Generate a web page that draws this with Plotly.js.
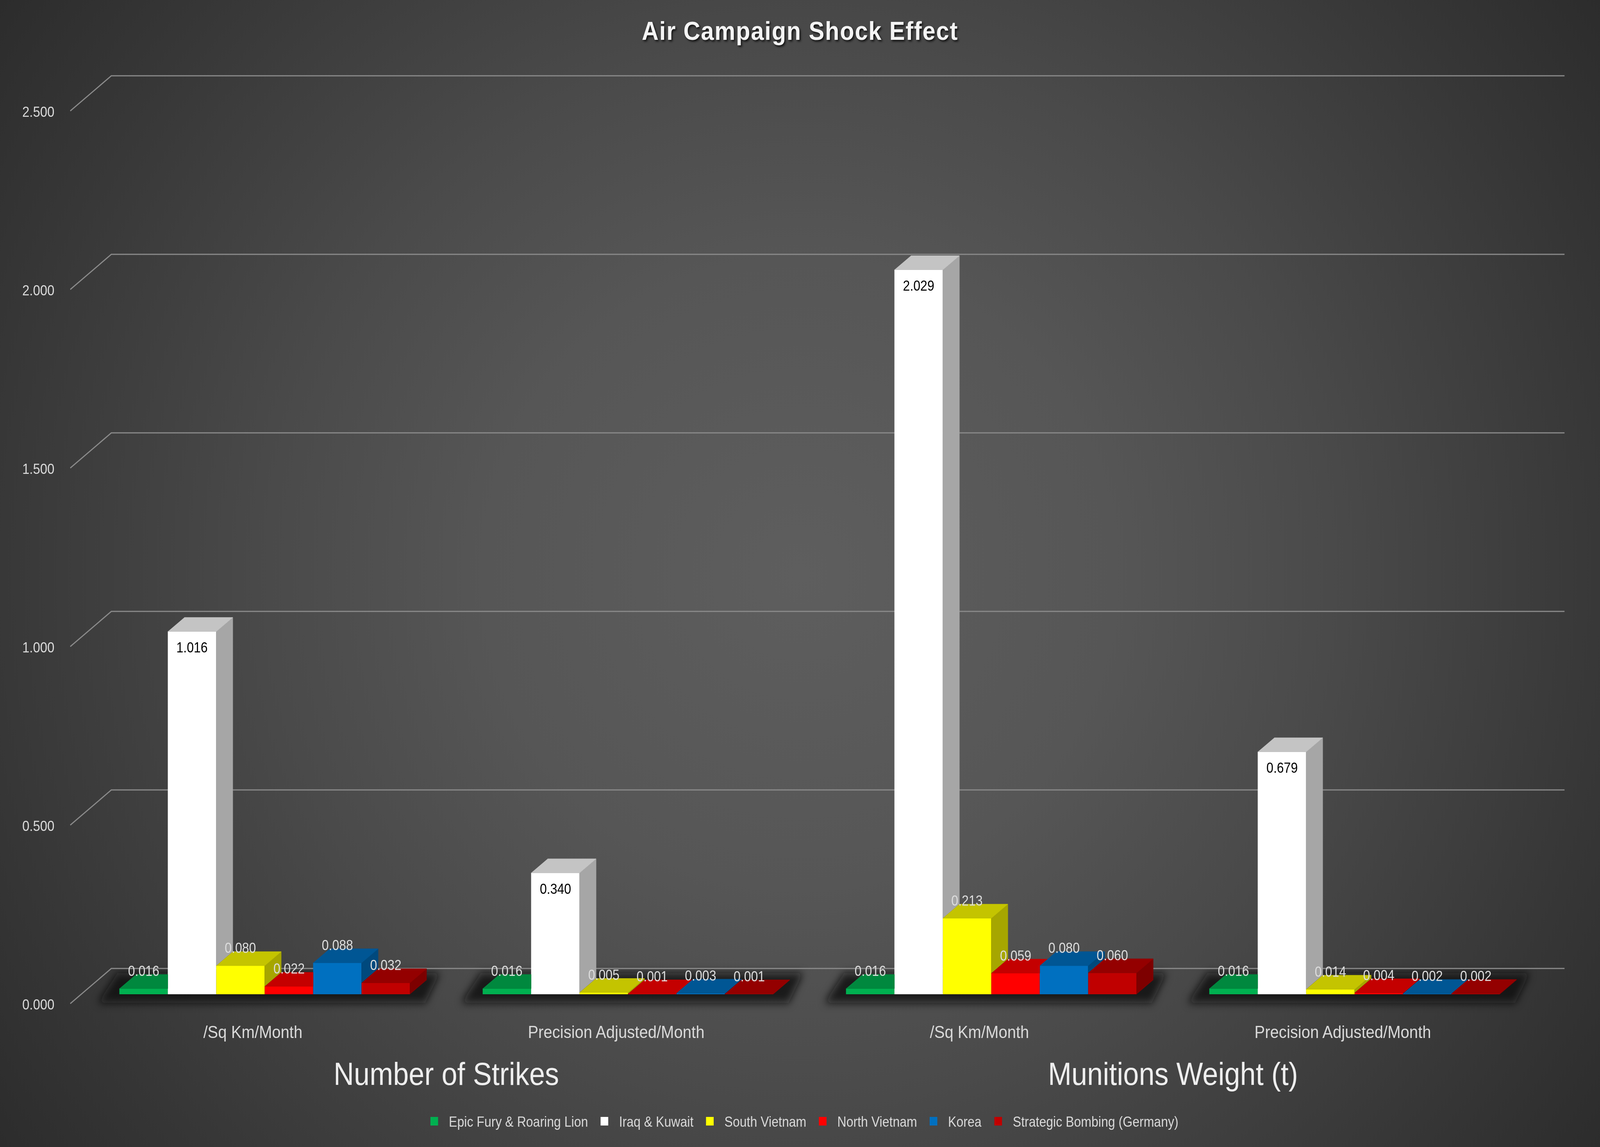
<!DOCTYPE html>
<html><head><meta charset="utf-8">
<script src="https://cdn.plot.ly/plotly-3.0.1.min.js"></script>
<style>
html,body{margin:0;padding:0;width:100%;height:100%;overflow:hidden;
background: radial-gradient(circle at 50% 50%, #5e5e5e 0%, #565656 32%, #4a4a4a 54%, #363636 84%, #2c2c2c 100%);}
#chart{width:4600px;height:2936px;transform-origin:0 0;}
.gtitle{letter-spacing:2px;}
.legend .legendpoints path{d:path("M11,11H-11V-11H11Z");}
.shapelayer path[data-index="0"], .shapelayer path[data-index="1"],
.shapelayer path[data-index="2"], .shapelayer path[data-index="3"]{filter:url(#shadowBlur);}
</style></head><body>
<svg width="0" height="0" style="position:absolute"><defs>
<filter id="shadowBlur" x="-20%" y="-60%" width="140%" height="220%"><feGaussianBlur stdDeviation="11"/></filter>
</defs></svg>
<div id="chart"></div>
<script>
// ---------- data ----------
const categories = ['/Sq Km/Month', 'Precision Adjusted/Month', '/Sq Km/Month', 'Precision Adjusted/Month'];
const groupLabels = ['Number of Strikes', 'Munitions Weight (t)'];
const seriesNames = ['Epic Fury & Roaring Lion', 'Iraq & Kuwait', 'South Vietnam', 'North Vietnam', 'Korea', 'Strategic Bombing (Germany)'];
const epicFury     = [0.016, 0.016, 0.016, 0.016];
const iraqKuwait   = [1.016, 0.340, 2.029, 0.679];
const southVietnam = [0.080, 0.005, 0.213, 0.014];
const northVietnam = [0.022, 0.001, 0.059, 0.004];
const korea        = [0.088, 0.003, 0.080, 0.002];
const germany      = [0.032, 0.001, 0.060, 0.002];
const yTicks = [0, 0.5, 1.0, 1.5, 2.0, 2.5];

// ---------- styles ----------
const seriesValues = [epicFury, iraqKuwait, southVietnam, northVietnam, korea, germany];
const frontColors = ['#00b050', '#ffffff', '#ffff00', '#ff0000', '#0070c0', '#c00000'];
function shade(hex, f) {
  const n = parseInt(hex.slice(1), 16);
  const r = Math.round(((n >> 16) & 255) * f), g = Math.round(((n >> 8) & 255) * f), b = Math.round((n & 255) * f);
  return 'rgb(' + r + ',' + g + ',' + b + ')';
}
const W = 4600, H = 2936;
// fit the 4600x2936 design to the actual window
const vw = window.innerWidth || W, vh = window.innerHeight || H;
document.getElementById('chart').style.transform = 'scale(' + (vw / W) + ',' + (vh / H) + ')';

const L = 190, R = 4520, T = 36, B = 2600;
const zeroPx = 2545, ppy = 914, firstCenterPx = 761, ppx = 1044.5;
const xmin = (L - firstCenterPx) / ppx, xmax = (R - firstCenterPx) / ppx;
const ymin = -(B - zeroPx) / ppy, ymax = (zeroPx - T) / ppy;
const nS = seriesValues.length;
const bw = 0.8 / nS;
const dxd = 47.5 / ppx, dyd = 36 / ppy, slope = dyd / dxd;
const fontFam = '"Liberation Sans", Arial, sans-serif';

const traces = [];
// front faces: real bar traces
seriesValues.forEach((vals, s) => {
  traces.push({
    type: 'bar', name: seriesNames[s], x: [0, 1, 2, 3], y: vals,
    marker: {color: frontColors[s], line: {width: 0}},
    hoverinfo: 'name+y'
  });
});
// side / top faces (3D look), clipped against the next bar
seriesValues.forEach((vals, s) => {
  const sx = [], sy = [], tx = [], ty = [];
  for (let g = 0; g < vals.length; g++) {
    const h = vals[g];
    const xl = g + (s - nS / 2) * bw, xr = xl + bw;
    const hasNext = s < nS - 1;
    const hn = hasNext ? seriesValues[s + 1][g] : 0;
    if (!hasNext || h > hn) {
      const lo = hasNext ? hn : 0;
      sx.push(xr, xr, xr + dxd, xr + dxd, null);
      sy.push(lo, h, h + dyd, lo + dyd, null);
    }
    if (!hasNext || hn < h) {
      tx.push(xl, xr, xr + dxd, xl + dxd, null);
      ty.push(h, h, h + dyd, h + dyd, null);
    } else {
      tx.push(xl, xr, xr); ty.push(h, h, Math.min(hn, h + dyd));
      if (hn < h + dyd) { tx.push(xr + (h + dyd - hn) / slope); ty.push(h + dyd); }
      else { tx.push(xr); ty.push(h + dyd); }
      tx.push(xl + dxd, null); ty.push(h + dyd, null);
    }
  }
  const sideCol = shade(frontColors[s], 0.65), topCol = shade(frontColors[s], 0.77);
  traces.push({type: 'scatter', mode: 'lines', x: sx, y: sy, fill: 'toself', fillcolor: sideCol,
    line: {width: 1, color: sideCol}, hoverinfo: 'skip', showlegend: false, connectgaps: false});
  traces.push({type: 'scatter', mode: 'lines', x: tx, y: ty, fill: 'toself', fillcolor: topCol,
    line: {width: 1, color: topCol}, hoverinfo: 'skip', showlegend: false, connectgaps: false});
});

// ---------- shapes: bar shadows (blurred by CSS filter) and gridlines ----------
const shapes = [];
const X = p => p / ppx, Y = p => p / ppy;
for (let g = 0; g < categories.length; g++) {
  const gl = g - 0.4, gr = g + 0.4;
  const yb = -Y(22), yt = Y(54);
  const path = 'M ' + (gl - X(62)) + ',' + yb + ' L ' + (gl - X(6)) + ',' + yt +
               ' L ' + (gr + X(86)) + ',' + yt + ' L ' + (gr + X(44)) + ',' + yb + ' Z';
  shapes.push({type: 'path', xref: 'x', yref: 'y', layer: 'below', path: path,
    fillcolor: 'rgba(10,10,10,0.82)', line: {width: 0}});
}
const xFront = xmin + X(202 - L), xBack = xmin + X(320 - L), xEnd = xmin + X(4498 - L);
yTicks.forEach(v => {
  const yF = v - Y(24), yB = v + Y(66);
  shapes.push({type: 'path', xref: 'x', yref: 'y', layer: 'below',
    path: 'M ' + xFront + ',' + yF + ' L ' + xBack + ',' + yB + ' L ' + xEnd + ',' + yB,
    line: {color: '#8a8a8a', width: 3}});
});

// ---------- annotations: data labels and group labels ----------
const annotations = [];
seriesValues.forEach((vals, s) => {
  vals.forEach((v, g) => {
    const inside = (s === 1);
    annotations.push({x: g + (s - nS / 2 + 0.5) * bw, y: v, xref: 'x', yref: 'y', showarrow: false,
      text: v.toFixed(3), yshift: inside ? -41 : 45,
      font: {family: fontFam, size: 36, color: inside ? '#000000' : '#dcdcdc'}});
  });
});
groupLabels.forEach((t, i) => {
  annotations.push({x: i * 2 + 0.5, xref: 'x', y: (B - 2749) / (B - T), yref: 'paper', yanchor: 'middle',
    showarrow: false, text: t, font: {family: fontFam, size: 81, color: '#eeeeee'}});
});

const layout = {
  width: W, height: H,
  paper_bgcolor: 'rgba(0,0,0,0)', plot_bgcolor: 'rgba(0,0,0,0)',
  margin: {l: L, r: W - R, t: T, b: H - B, pad: 0},
  title: {text: 'Air Campaign Shock Effect', x: 0.5, xref: 'container', xanchor: 'center',
    y: 1 - 79 / H, yref: 'container', yanchor: 'middle',
    font: {family: fontFam, size: 67, color: '#f4f4f4', weight: 'bold', shadow: '3px 3px 5px rgba(0,0,0,0.75)'}},
  barmode: 'group', bargap: 0.2, bargroupgap: 0,
  showlegend: true,
  legend: {orientation: 'h', x: 0.5, xref: 'container', xanchor: 'center', y: 1 - 2870 / H, yref: 'container', yanchor: 'middle',
    font: {family: fontFam, size: 36, color: '#d9d9d9'}, bgcolor: 'rgba(0,0,0,0)', itemwidth: 74, traceorder: 'normal'},
  xaxis: {range: [xmin, xmax], tickvals: [0, 1, 2, 3], ticktext: categories, showgrid: false, zeroline: false, showline: false,
    ticks: 'outside', ticklen: 2, tickcolor: 'rgba(0,0,0,0)', ticklabelshift: -34,
    tickfont: {family: fontFam, size: 45, color: '#d9d9d9'}, fixedrange: true},
  yaxis: {range: [ymin, ymax], tickvals: yTicks, tickformat: '.3f', showgrid: false, zeroline: false, showline: false,
    ticks: 'outside', ticklen: 25, tickcolor: 'rgba(0,0,0,0)', ticklabelshift: 26,
    tickfont: {family: fontFam, size: 37, color: '#d9d9d9'}, fixedrange: true},
  shapes: shapes,
  annotations: annotations
};
Plotly.newPlot('chart', traces, layout, {displayModeBar: false, staticPlot: true});
</script></body></html>
